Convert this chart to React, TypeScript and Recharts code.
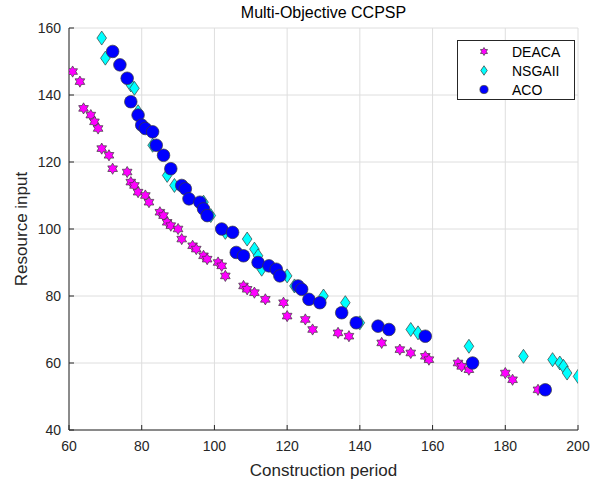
import { ScatterChart, Scatter, XAxis, YAxis, CartesianGrid, Legend } from 'recharts'

// Construction period (x) / Resource input (y) per algorithm
const deacaPeriod = [61, 63, 64, 66, 67, 68, 69, 71, 72, 76, 77, 78, 79, 81, 82, 85, 86, 87, 88, 90, 91, 94, 95, 97, 98, 101, 102, 103, 108, 109, 111, 114, 119, 120, 125, 127, 134, 137, 146, 151, 154, 158, 159, 167, 168, 170, 180, 182, 189]
const deacaResource = [147, 144, 136, 134, 132, 130, 124, 122, 118, 117, 114, 113, 111, 110, 108, 105, 104, 102, 101, 100, 97, 95, 94, 92, 91, 90, 89, 86, 83, 82, 81, 79, 78, 74, 73, 70, 69, 68, 66, 64, 63, 62, 61, 60, 59, 58, 57, 55, 52]

const nsgaPeriod = [69, 70, 77, 78, 79, 83, 87, 89, 97, 99, 103, 109, 111, 112, 113, 120, 122, 130, 136, 140, 154, 156, 170, 185, 193, 195, 196, 197, 200]
const nsgaResource = [157, 151, 143, 142, 135, 125, 116, 113, 108, 104, 99, 97, 94, 92, 88, 86, 83, 80, 78, 72, 70, 69, 65, 62, 61, 60, 59, 57, 56]

const acoPeriod = [72, 74, 76, 77, 79, 80, 81, 83, 84, 86, 88, 91, 92, 93, 96, 97, 98, 102, 105, 106, 108, 112, 115, 117, 118, 123, 124, 126, 129, 135, 139, 145, 148, 158, 171, 191]
const acoResource = [153, 149, 145, 138, 134, 131, 130, 129, 125, 122, 118, 113, 112, 109, 108, 106, 104, 100, 99, 93, 92, 90, 89, 88, 86, 83, 82, 79, 78, 75, 72, 71, 70, 68, 60, 52]

const xTicks = [60, 80, 100, 120, 140, 160, 180, 200]
const yTicks = [40, 60, 80, 100, 120, 140, 160]

const toPoints = (xs: number[], ys: number[]) => xs.map((x, i) => ({ x, y: ys[i] }))

const FONT = '"Liberation Sans", Arial, Helvetica, sans-serif'
const INK = '#262626'
const EDGE = '#3a3a3a'

const hexagramPts = (cx: number, cy: number, R: number) => {
  const pts: string[] = []
  for (let i = 0; i < 12; i++) {
    const r = i % 2 === 0 ? R : R / Math.sqrt(3)
    const a = ((-90 + i * 30) * Math.PI) / 180
    pts.push(`${cx + r * Math.cos(a)},${cy + r * Math.sin(a)}`)
  }
  return pts.join(' ')
}

const Star = ({ cx, cy, s = 1 }: any) => (
  <polygon points={hexagramPts(cx, cy, 5.6 * s)} fill="#ff00ff" stroke={EDGE} strokeWidth={0.7} />
)
const Diamond = ({ cx, cy, s = 1 }: any) => {
  const w = 4.8 * s, h = 7 * s
  return (
    <polygon
      points={`${cx},${cy - h} ${cx + w},${cy} ${cx},${cy + h} ${cx - w},${cy}`}
      fill="#00ffff" stroke={EDGE} strokeWidth={0.7}
    />
  )
}
const Dot = ({ cx, cy, s = 1 }: any) => (
  <circle cx={cx} cy={cy} r={6.3 * s} fill="#0000ff" stroke={EDGE} strokeWidth={0.7} />
)

const BottomTick = ({ x, y, payload }: any) => (
  <g>
    <line x1={x} x2={x} y1={y} y2={y - 5} stroke={INK} />
    <text x={x} y={y + 21} textAnchor="middle" fontSize={14} fill={INK} fontFamily={FONT}>{payload.value}</text>
  </g>
)
const TopTick = ({ x, y }: any) => <line x1={x} x2={x} y1={y} y2={y + 5} stroke={INK} />
const LeftTick = ({ x, y, payload }: any) => (
  <g>
    <line x1={x} x2={x + 5} y1={y} y2={y} stroke={INK} />
    <text x={x - 8} y={y + 5} textAnchor="end" fontSize={14} fill={INK} fontFamily={FONT}>{payload.value}</text>
  </g>
)
const RightTick = ({ x, y }: any) => <line x1={x} x2={x - 5} y1={y} y2={y} stroke={INK} />

const legendItems = [
  { name: 'DEACA', Icon: Star, s: 0.72 },
  { name: 'NSGAII', Icon: Diamond, s: 0.68 },
  { name: 'ACO', Icon: Dot, s: 0.65 },
]

const LegendBox = () => (
  <div style={{ border: `1px solid ${INK}`, background: '#fff', padding: '1px 0 0 0', fontFamily: FONT, fontSize: 14, color: '#000' }}>
    {legendItems.map(({ name, Icon, s }) => (
      <div key={name} style={{ display: 'flex', alignItems: 'center', height: 19 }}>
        <svg width={50} height={19}>
          <Icon cx={26} cy={9.5} s={s} />
        </svg>
        <span style={{ marginLeft: 4 }}>{name}</span>
      </div>
    ))}
  </div>
)

export default function App() {
  return (
    <div style={{ position: 'absolute', left: 0, top: 0, width: 602, height: 481, background: '#fff' }}>
      <div style={{ position: 'absolute', left: 69, width: 509, top: 4, textAlign: 'center', fontFamily: FONT, fontSize: 16, color: '#000' }}>
        Multi-Objective CCPSP
      </div>
      <ScatterChart width={602} height={481} margin={{ top: 28, right: 24, bottom: 0, left: 0 }}>
        <CartesianGrid stroke="#dedede" strokeWidth={1} />
        <XAxis
          type="number" dataKey="x" domain={[60, 200]} ticks={xTicks} allowDataOverflow
          height={51} tickSize={0} tickMargin={0} tickLine={false} axisLine={{ stroke: INK }}
          tick={<BottomTick />}
          label={{ value: 'Construction period', position: 'insideBottom', offset: 5, fill: INK, fontSize: 17, fontFamily: FONT }}
        />
        <XAxis
          xAxisId="top" orientation="top" type="number" domain={[60, 200]} ticks={xTicks} allowDataOverflow
          height={0} tickSize={0} tickMargin={0} tickLine={false} axisLine={{ stroke: INK }} tick={<TopTick />}
        />
        <YAxis
          type="number" dataKey="y" domain={[40, 160]} ticks={yTicks} allowDataOverflow
          width={69} tickSize={0} tickMargin={0} tickLine={false} axisLine={{ stroke: INK }}
          tick={<LeftTick />}
          label={{ value: 'Resource input', angle: -90, position: 'insideLeft', offset: 21, fill: INK, fontSize: 17, fontFamily: FONT, style: { textAnchor: 'middle' } }}
        />
        <YAxis
          yAxisId="right" orientation="right" type="number" domain={[40, 160]} ticks={yTicks} allowDataOverflow
          width={0} tickSize={0} tickMargin={0} tickLine={false} axisLine={{ stroke: INK }} tick={<RightTick />}
        />
        <Legend
          layout="vertical" align="center" verticalAlign="middle"
          content={<LegendBox />}
          wrapperStyle={{ left: 457, top: 40, width: 118 }}
        />
        <Scatter name="DEACA" data={toPoints(deacaPeriod, deacaResource)} shape={<Star />} isAnimationActive={false} />
        <Scatter name="NSGAII" data={toPoints(nsgaPeriod, nsgaResource)} shape={<Diamond />} isAnimationActive={false} />
        <Scatter name="ACO" data={toPoints(acoPeriod, acoResource)} shape={<Dot />} isAnimationActive={false} />
      </ScatterChart>
    </div>
  )
}
